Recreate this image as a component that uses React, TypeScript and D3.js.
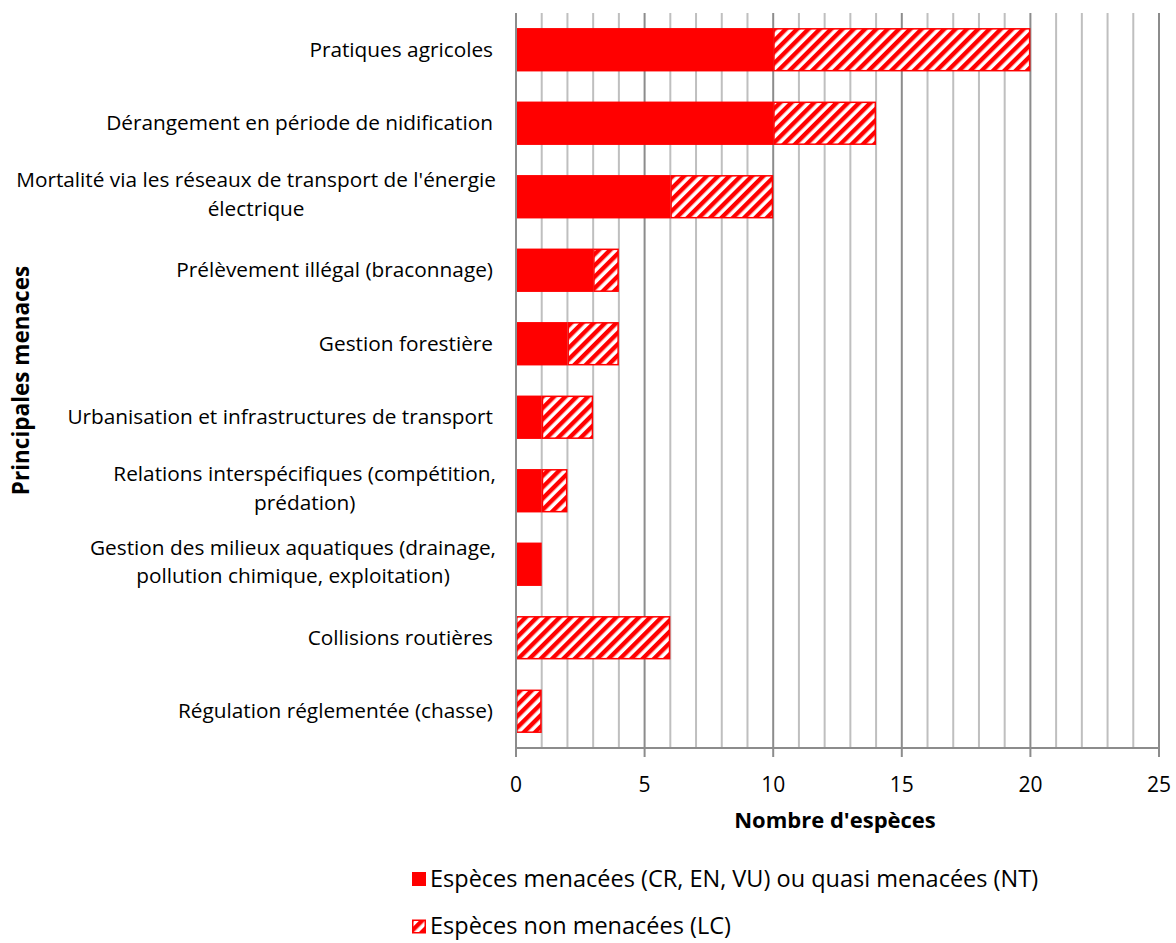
import * as d3 from "d3"
import { useLayoutEffect, useRef } from "react"

const categories = [
  "Pratiques agricoles",
  "Dérangement en période de nidification",
  "Mortalité via les réseaux de transport de l'énergie|électrique",
  "Prélèvement illégal (braconnage)",
  "Gestion forestière",
  "Urbanisation et infrastructures de transport",
  "Relations interspécifiques (compétition,|prédation)",
  "Gestion des milieux aquatiques (drainage,|pollution chimique, exploitation)",
  "Collisions routières",
  "Régulation réglementée (chasse)",
]
const threatened = [10, 10, 6, 3, 2, 1, 1, 1, 0, 0]
const notThreatened = [10, 4, 4, 1, 2, 2, 1, 0, 6, 1]
const xTicks = [0, 5, 10, 15, 20, 25]
const seriesNames = [
  "Espèces menacées (CR, EN, VU) ou quasi menacées (NT)",
  "Espèces non menacées (LC)",
]

const FONT = "'Open Sans', sans-serif"
const RED = "#ff0000"

export default function App() {
  const ref = useRef<HTMLDivElement>(null)

  useLayoutEffect(() => {
    if (!ref.current) return
    const root = d3.select(ref.current)
    root.selectAll("svg").remove()

    const W = 1176
    const H = 943
    const m = { left: 516, right: 17, top: 13, bottom: 195 }
    const iw = W - m.left - m.right
    const ih = H - m.top - m.bottom

    const svg = root
      .append("svg")
      .attr("width", W)
      .attr("height", H)
      .style("display", "block")
      .style("font-family", FONT)

    const defs = svg.append("defs")
    const pat = defs
      .append("pattern")
      .attr("id", "hatch")
      .attr("patternUnits", "userSpaceOnUse")
      .attr("width", 8)
      .attr("height", 8)
      .attr("patternTransform", "rotate(45)")
    pat.append("rect").attr("width", 8).attr("height", 8).attr("fill", "#fff")
    pat.append("rect").attr("width", 4.4).attr("height", 8).attr("fill", RED)

    const x = d3.scaleLinear().domain([0, 25]).range([0, iw])
    const y = d3
      .scaleBand()
      .domain(categories)
      .range([0, ih])
      .paddingInner(0.41)
      .paddingOuter(0.205)

    const g = svg.append("g").attr("transform", `translate(${m.left},${m.top})`)

    // gridlines
    g.selectAll(".grid")
      .data(d3.range(1, 26))
      .enter()
      .append("line")
      .attr("x1", (d) => x(d))
      .attr("x2", (d) => x(d))
      .attr("y1", 0)
      .attr("y2", ih)
      .attr("stroke", (d) => (d % 5 === 0 ? "#8c8c8c" : "#bfbfbf"))
      .attr("stroke-width", 2)

    // bars
    const rows = categories.map((c, i) => ({ c, a: threatened[i], b: notThreatened[i] }))
    g.selectAll(".barA")
      .data(rows.filter((r) => r.a > 0))
      .enter()
      .append("rect")
      .attr("x", 0)
      .attr("y", (d) => y(d.c)!)
      .attr("width", (d) => x(d.a))
      .attr("height", y.bandwidth())
      .attr("fill", RED)
    g.selectAll(".barB")
      .data(rows.filter((r) => r.b > 0))
      .enter()
      .append("rect")
      .attr("x", (d) => x(d.a) + 0.75)
      .attr("y", (d) => y(d.c)! + 0.75)
      .attr("width", (d) => x(d.b) - 1.5)
      .attr("height", y.bandwidth() - 1.5)
      .attr("fill", "url(#hatch)")
      .attr("stroke", RED)
      .attr("stroke-width", 1.5)

    // axes
    g.append("line")
      .attr("x1", 0).attr("x2", 0).attr("y1", 0).attr("y2", ih)
      .attr("stroke", "#8c8c8c").attr("stroke-width", 2)
    g.append("line")
      .attr("x1", 0).attr("x2", iw).attr("y1", ih).attr("y2", ih)
      .attr("stroke", "#8c8c8c").attr("stroke-width", 2)
    g.selectAll(".tick")
      .data(xTicks)
      .enter()
      .append("line")
      .attr("x1", (d) => x(d)).attr("x2", (d) => x(d))
      .attr("y1", ih).attr("y2", ih + 9)
      .attr("stroke", "#8c8c8c").attr("stroke-width", 2)
    g.selectAll(".tlabel")
      .data(xTicks)
      .enter()
      .append("text")
      .attr("x", (d) => x(d))
      .attr("y", 792 - m.top)
      .attr("text-anchor", "middle")
      .attr("font-size", 21)
      .attr("fill", "#000")
      .text((d) => d)

    // category labels
    categories.forEach((c) => {
      const lines = c.split("|")
      const cy = y(c)! + y.bandwidth() / 2
      const t = g.append("text").attr("font-size", 20.8).attr("fill", "#000")
      if (lines.length === 1) {
        t.attr("x", -23).attr("y", cy + 7).attr("text-anchor", "end").text(c)
      } else {
        const spans = lines.map((l, i) =>
          t.append("tspan").attr("y", cy + 4.5 + (i - 0.5) * 28.5).text(l),
        )
        const w0 = (spans[0].node() as SVGTSpanElement).getComputedTextLength()
        const mid = -20 - w0 / 2
        t.attr("text-anchor", "middle")
        spans.forEach((s) => s.attr("x", mid))
      }
    })

    // axis titles
    svg.append("text")
      .attr("x", 835)
      .attr("y", 828)
      .attr("text-anchor", "middle")
      .attr("font-size", 22)
      .attr("font-weight", "bold")
      .text("Nombre d'espèces")
    svg.append("text")
      .attr("transform", `translate(29,${m.top + ih / 2}) rotate(-90)`)
      .attr("text-anchor", "middle")
      .attr("font-size", 22.5)
      .attr("font-weight", "bold")
      .text("Principales menaces")

    // legend
    const legend = svg.append("g").attr("transform", "translate(412,0)")
    ;[0, 1].forEach((i) => {
      const ly = 879 + i * 47.5
      legend.append("rect")
        .attr("x", 0.75).attr("y", ly - 6.25)
        .attr("width", 12.5).attr("height", 12.5)
        .attr("fill", i === 0 ? RED : "url(#hatch)")
        .attr("stroke", RED).attr("stroke-width", 1.5)
      legend.append("text")
        .attr("x", 18).attr("y", ly + 7.5)
        .attr("font-size", 23.5)
        .text(seriesNames[i])
    })

    return () => {
      root.selectAll("svg").remove()
    }
  }, [])

  return <div ref={ref} style={{ position: "absolute", left: 0, top: 0 }} />
}
